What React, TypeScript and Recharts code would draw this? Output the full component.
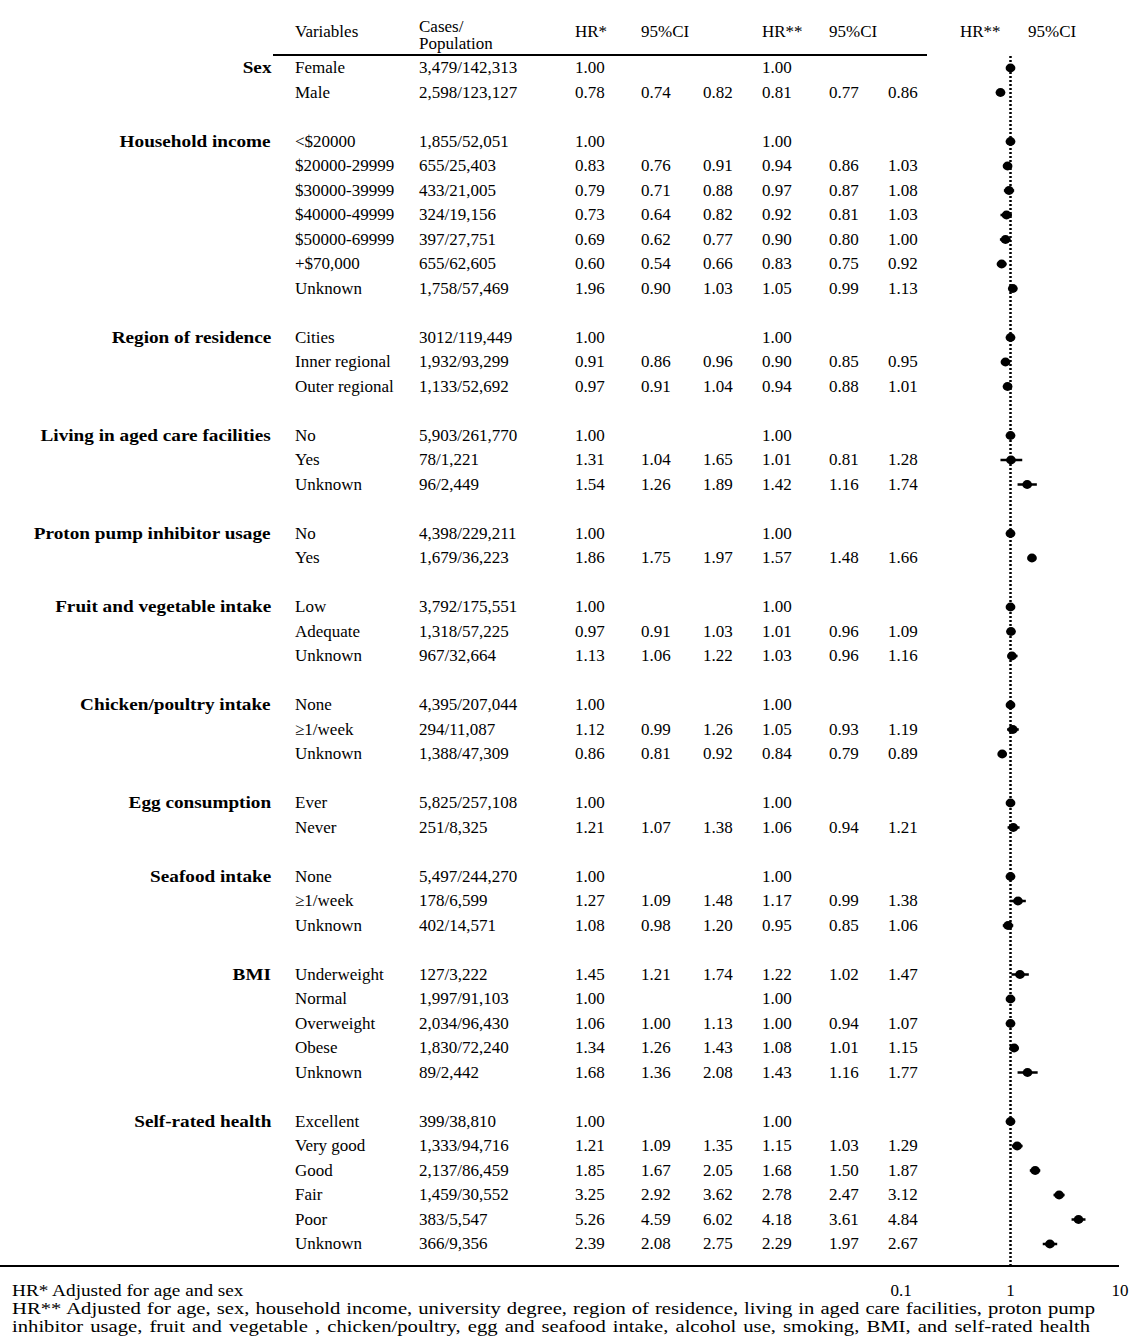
import React from "react";
import { ScatterChart, Scatter, XAxis, YAxis, ErrorBar, ReferenceLine } from "recharts";

const groups = [
  "Sex",
  "Household income",
  "Region of residence",
  "Living in aged care facilities",
  "Proton pump inhibitor usage",
  "Fruit and vegetable intake",
  "Chicken/poultry intake",
  "Egg consumption",
  "Seafood intake",
  "BMI",
  "Self-rated health",
];
const groupSizes = [2, 7, 3, 3, 2, 3, 3, 2, 3, 5, 6];

const labels = [
  "Female", "Male",
  "<$20000", "$20000-29999", "$30000-39999", "$40000-49999", "$50000-69999", "+$70,000", "Unknown",
  "Cities", "Inner regional", "Outer regional",
  "No", "Yes", "Unknown",
  "No", "Yes",
  "Low", "Adequate", "Unknown",
  "None", "≥1/week", "Unknown",
  "Ever", "Never",
  "None", "≥1/week", "Unknown",
  "Underweight", "Normal", "Overweight", "Obese", "Unknown",
  "Excellent", "Very good", "Good", "Fair", "Poor", "Unknown",
];

const cases = [
  "3,479/142,313", "2,598/123,127",
  "1,855/52,051", "655/25,403", "433/21,005", "324/19,156", "397/27,751", "655/62,605", "1,758/57,469",
  "3012/119,449", "1,932/93,299", "1,133/52,692",
  "5,903/261,770", "78/1,221", "96/2,449",
  "4,398/229,211", "1,679/36,223",
  "3,792/175,551", "1,318/57,225", "967/32,664",
  "4,395/207,044", "294/11,087", "1,388/47,309",
  "5,825/257,108", "251/8,325",
  "5,497/244,270", "178/6,599", "402/14,571",
  "127/3,222", "1,997/91,103", "2,034/96,430", "1,830/72,240", "89/2,442",
  "399/38,810", "1,333/94,716", "2,137/86,459", "1,459/30,552", "383/5,547", "366/9,356",
];

// HR* adjusted for age and sex
const hr1 = [1.0, 0.78, 1.0, 0.83, 0.79, 0.73, 0.69, 0.6, 1.96, 1.0, 0.91, 0.97, 1.0, 1.31, 1.54, 1.0, 1.86, 1.0, 0.97, 1.13, 1.0, 1.12, 0.86, 1.0, 1.21, 1.0, 1.27, 1.08, 1.45, 1.0, 1.06, 1.34, 1.68, 1.0, 1.21, 1.85, 3.25, 5.26, 2.39];
const lo1 = [null, 0.74, null, 0.76, 0.71, 0.64, 0.62, 0.54, 0.9, null, 0.86, 0.91, null, 1.04, 1.26, null, 1.75, null, 0.91, 1.06, null, 0.99, 0.81, null, 1.07, null, 1.09, 0.98, 1.21, null, 1.0, 1.26, 1.36, null, 1.09, 1.67, 2.92, 4.59, 2.08];
const hi1 = [null, 0.82, null, 0.91, 0.88, 0.82, 0.77, 0.66, 1.03, null, 0.96, 1.04, null, 1.65, 1.89, null, 1.97, null, 1.03, 1.22, null, 1.26, 0.92, null, 1.38, null, 1.48, 1.2, 1.74, null, 1.13, 1.43, 2.08, null, 1.35, 2.05, 3.62, 6.02, 2.75];

// HR** fully adjusted
const hr2 = [1.0, 0.81, 1.0, 0.94, 0.97, 0.92, 0.9, 0.83, 1.05, 1.0, 0.9, 0.94, 1.0, 1.01, 1.42, 1.0, 1.57, 1.0, 1.01, 1.03, 1.0, 1.05, 0.84, 1.0, 1.06, 1.0, 1.17, 0.95, 1.22, 1.0, 1.0, 1.08, 1.43, 1.0, 1.15, 1.68, 2.78, 4.18, 2.29];
const lo2 = [null, 0.77, null, 0.86, 0.87, 0.81, 0.8, 0.75, 0.99, null, 0.85, 0.88, null, 0.81, 1.16, null, 1.48, null, 0.96, 0.96, null, 0.93, 0.79, null, 0.94, null, 0.99, 0.85, 1.02, null, 0.94, 1.01, 1.16, null, 1.03, 1.5, 2.47, 3.61, 1.97];
const hi2 = [null, 0.86, null, 1.03, 1.08, 1.03, 1.0, 0.92, 1.13, null, 0.95, 1.01, null, 1.28, 1.74, null, 1.66, null, 1.09, 1.16, null, 1.19, 0.89, null, 1.21, null, 1.38, 1.06, 1.47, null, 1.07, 1.15, 1.77, null, 1.29, 1.87, 3.12, 4.84, 2.67];

const xTicks = [0.1, 1, 10];

const footnotes = [
  "HR* Adjusted for age and sex",
  "HR** Adjusted for age, sex, household income, university degree, region of residence, living in aged care facilities, proton pump",
  "inhibitor usage, fruit and vegetable , chicken/poultry, egg and seafood intake, alcohol use, smoking, BMI, and self-rated health",
];

const W = 1131;
const H = 1343;
const FIRST_Y = 68;
const ROW_H = 24.5;
const PLOT_TOP = 55;
const PLOT_BOTTOM = 1266;
const FONT = "'Liberation Serif', 'Times New Roman', serif";
const STRETCH = 1.13;

// one blank slot between groups
const rows: { slot: number; group: string | null; i: number }[] = [];
{
  let k = 0;
  groupSizes.forEach((n, g) => {
    for (let j = 0; j < n; j++) {
      rows.push({ slot: k + g, group: j === 0 ? groups[g] : null, i: k });
      k++;
    }
  });
}

const yOf = (slot: number) => FIRST_Y + slot * ROW_H;
const fmt = (v: number | null) => (v == null ? "" : v.toFixed(2));

const plotData = rows.map((r) => ({
  slot: r.slot,
  hr: hr2[r.i],
  err: [hr2[r.i] - (lo2[r.i] ?? hr2[r.i]), (hi2[r.i] ?? hr2[r.i]) - hr2[r.i]],
}));

function Cell({ x, y, children, bold, right }: { x: number; y: number; children: React.ReactNode; bold?: boolean; right?: boolean }) {
  return (
    <div
      style={{
        position: "absolute",
        top: y - 10,
        left: right ? undefined : x,
        right: right ? W - x : undefined,
        lineHeight: "20px",
        whiteSpace: "nowrap",
        fontWeight: bold ? "bold" : "normal",
        transform: bold ? `scaleX(${STRETCH})` : undefined,
        transformOrigin: "right center",
      }}
    >
      {children}
    </div>
  );
}

function Note({ y, children, width, stretch }: { y: number; children: React.ReactNode; width?: number; stretch: number }) {
  return (
    <div
      style={{
        position: "absolute",
        top: y - 8,
        left: 12,
        width: width ? width / stretch : undefined,
        fontSize: 17.5,
        lineHeight: "16px",
        whiteSpace: "nowrap",
        textAlign: width ? "justify" : "left",
        textAlignLast: width ? "justify" : "left",
        transform: `scaleX(${stretch})`,
        transformOrigin: "left center",
      }}
    >
      {children}
    </div>
  );
}

const Dot = (p: any) => <ellipse cx={p.cx} cy={p.cy} rx={4.9} ry={4.4} fill="#000" />;

export default function App() {
  return (
    <div style={{ position: "absolute", left: 0, top: 0, width: W, height: H, background: "#fff", fontFamily: FONT, fontSize: 17, color: "#000", overflow: "hidden" }}>
      <div style={{ position: "absolute", left: 0, top: 0 }}>
        <ScatterChart width={W} height={H} margin={{ top: PLOT_TOP, right: 11, bottom: H - PLOT_BOTTOM - 30, left: 901 }}>
          <XAxis
            type="number"
            dataKey="hr"
            scale="log"
            domain={[0.1, 10]}
            ticks={xTicks}
            interval={0}
            allowDataOverflow
            axisLine={false}
            tickLine={false}
            tickSize={6}
            tickMargin={12}
            height={30}
            tick={{ fill: "#000", fontSize: 17, fontFamily: FONT }}
            tickFormatter={(v) => String(v)}
          />
          <YAxis
            type="number"
            dataKey="slot"
            domain={[(PLOT_TOP - FIRST_Y) / ROW_H, (PLOT_BOTTOM - FIRST_Y) / ROW_H]}
            reversed
            hide
            allowDataOverflow
          />
          <ReferenceLine x={1} stroke="#000" strokeWidth={2.5} strokeDasharray="2 2" />
          <Scatter data={plotData} shape={Dot} isAnimationActive={false}>
            <ErrorBar dataKey="err" direction="x" width={0} stroke="#000" strokeWidth={2.5} isAnimationActive={false} />
          </Scatter>
        </ScatterChart>
      </div>

      {/* header */}
      <Cell x={295} y={32}>Variables</Cell>
      <Cell x={419} y={27}>Cases/</Cell>
      <Cell x={419} y={44}>Population</Cell>
      <Cell x={575} y={32}>HR*</Cell>
      <Cell x={641} y={32}>95%CI</Cell>
      <Cell x={762} y={32}>HR**</Cell>
      <Cell x={829} y={32}>95%CI</Cell>
      <Cell x={960} y={32}>HR**</Cell>
      <Cell x={1028} y={32}>95%CI</Cell>
      <div style={{ position: "absolute", left: 273, top: 54, width: 654, height: 2, background: "#000" }} />

      {rows.map((r) => {
        const y = yOf(r.slot);
        return (
          <React.Fragment key={r.i}>
            {r.group && <Cell x={271} y={y} bold right>{r.group}</Cell>}
            <Cell x={295} y={y}>{labels[r.i]}</Cell>
            <Cell x={419} y={y}>{cases[r.i]}</Cell>
            <Cell x={575} y={y}>{fmt(hr1[r.i])}</Cell>
            <Cell x={641} y={y}>{fmt(lo1[r.i])}</Cell>
            <Cell x={703} y={y}>{fmt(hi1[r.i])}</Cell>
            <Cell x={762} y={y}>{fmt(hr2[r.i])}</Cell>
            <Cell x={829} y={y}>{fmt(lo2[r.i])}</Cell>
            <Cell x={888} y={y}>{fmt(hi2[r.i])}</Cell>
          </React.Fragment>
        );
      })}

      <div style={{ position: "absolute", left: 0, top: PLOT_BOTTOM - 1, width: 1119, height: 2, background: "#000" }} />

      <Note y={1290} stretch={1.1}>{footnotes[0]}</Note>
      <Note y={1308} width={1083} stretch={1.18}>{footnotes[1]}</Note>
      <Note y={1326} width={1078} stretch={1.18}>{footnotes[2]}</Note>
    </div>
  );
}
